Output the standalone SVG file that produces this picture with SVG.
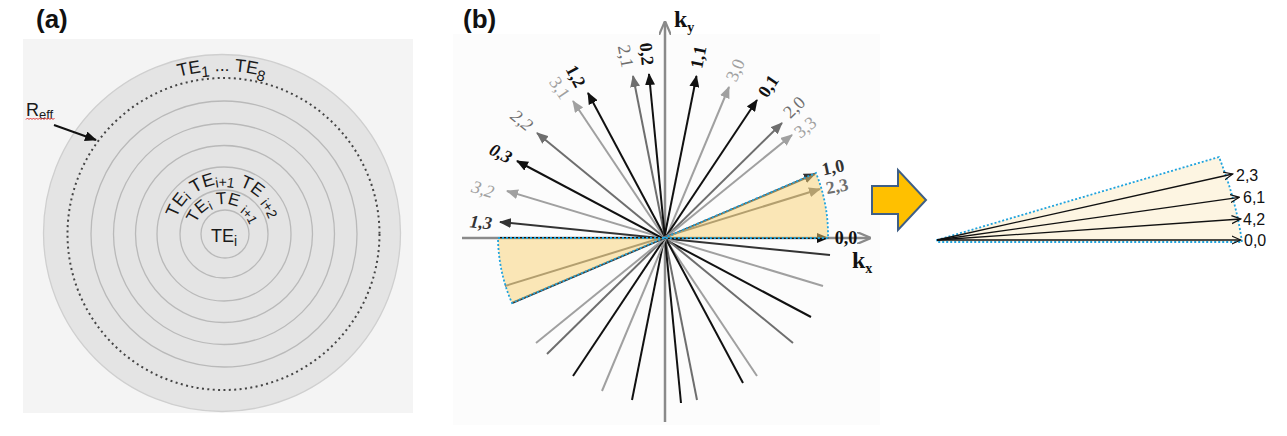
<svg xmlns="http://www.w3.org/2000/svg" width="1287" height="436" viewBox="0 0 1287 436">
<style>
.ring{fill:none;stroke:#b9b9b9;stroke-width:1.3}
.te{font-family:"Liberation Sans",Arial,sans-serif;fill:#1a1a1a}
.ray{stroke-width:2;fill:none}
.k{stroke:#111}.d{stroke:#333}.g{stroke:#6e6e6e}.l{stroke:#a0a0a0}
.lb{font-family:"Liberation Serif","Times New Roman",serif;font-size:18px;text-anchor:middle}
.lk{fill:#111;font-weight:bold}.ld{fill:#333;font-weight:bold}.lg{fill:#6e6e6e}.ll{fill:#a0a0a0}
.wedge{fill:#f7cf70;fill-opacity:0.5;stroke:#1fa3de;stroke-width:1.8;stroke-dasharray:2 2}
.cl{font-family:"Liberation Sans",Arial,sans-serif;font-size:16px;fill:#111}
.ca{stroke:#111;stroke-width:1.3;fill:none}
.panel{font-family:"Liberation Sans",Arial,sans-serif;font-size:26px;font-weight:bold;fill:#111}
</style>
<defs>
<marker id="ah-k" markerWidth="12" markerHeight="10" refX="11" refY="5" orient="auto" markerUnits="userSpaceOnUse"><path d="M0,0 L12,5 L0,10 z" fill="#111"/></marker>
<marker id="ah-d" markerWidth="12" markerHeight="10" refX="11" refY="5" orient="auto" markerUnits="userSpaceOnUse"><path d="M0,0 L12,5 L0,10 z" fill="#333"/></marker>
<marker id="ah-g" markerWidth="12" markerHeight="10" refX="11" refY="5" orient="auto" markerUnits="userSpaceOnUse"><path d="M0,0 L12,5 L0,10 z" fill="#6e6e6e"/></marker>
<marker id="ah-l" markerWidth="12" markerHeight="10" refX="11" refY="5" orient="auto" markerUnits="userSpaceOnUse"><path d="M0,0 L12,5 L0,10 z" fill="#a0a0a0"/></marker>
<marker id="ah-ax" markerWidth="14" markerHeight="12" refX="13" refY="6" orient="auto" markerUnits="userSpaceOnUse"><path d="M0,0 L14,6 L0,12" fill="none" stroke="#8a8a8a" stroke-width="2.2"/></marker>
<marker id="ah-r" markerWidth="12" markerHeight="10" refX="11" refY="5" orient="auto" markerUnits="userSpaceOnUse"><path d="M0,0 L12,5 L0,10 z" fill="#111"/></marker>
<marker id="oa" markerWidth="10" markerHeight="10" refX="9" refY="5" orient="auto" markerUnits="userSpaceOnUse"><path d="M0,1 L9,5 L0,9" fill="none" stroke="#111" stroke-width="1.2"/></marker>
<path id="arcTE" d="M59.5,233.5 A162.5,162.5 0 0 1 384.5,233.5"/>
<path id="arcOuter" d="M174,234 A50,50 0 0 1 274,234"/>
<path id="arcInner" d="M194,234 A30,30 0 0 1 254,234"/>
</defs>
<rect width="1287" height="436" fill="#fff"/>

<g id="panel-a">
<text class="panel" x="36" y="28">(a)</text>
<rect x="23" y="39" width="390" height="374" fill="#f4f4f4"/>
<circle cx="222" cy="233" r="178.5" fill="#e4e4e4" stroke="#cfcfcf" stroke-width="1.3"/>
<circle class="ring" cx="224" cy="234" r="133"/>
<circle class="ring" cx="224" cy="234" r="110.5"/>
<circle class="ring" cx="224" cy="234" r="88.5"/>
<circle class="ring" cx="224" cy="234" r="67"/>
<circle class="ring" cx="224" cy="234" r="44"/>
<circle class="ring" cx="225" cy="234" r="24"/>
<circle cx="223.5" cy="234" r="156" fill="none" stroke="#444" stroke-width="2" stroke-dasharray="2 3.4"/>
<text class="te" font-size="18"><textPath href="#arcTE" startOffset="50%" text-anchor="middle">TE<tspan font-size="15" dy="5">1</tspan><tspan dy="-5"> ... TE</tspan><tspan font-size="15" dy="5">8</tspan></textPath></text>
<text class="te" font-size="18"><textPath href="#arcOuter" startOffset="50%" text-anchor="middle">TE<tspan font-size="14" dy="2">i</tspan><tspan dy="-2"> TE</tspan><tspan font-size="14" dy="3">i+1</tspan><tspan dy="-3"> TE </tspan><tspan font-size="14" dy="3">i+2</tspan></textPath></text>
<text class="te" font-size="17"><textPath href="#arcInner" startOffset="50%" text-anchor="middle">TE<tspan font-size="13" dy="3">i</tspan><tspan dy="-3"> TE </tspan><tspan font-size="13" dy="3">i+1</tspan></textPath></text>
<text class="te" font-size="18" x="211" y="242">TE<tspan font-size="14" dy="4">i</tspan></text>
<text class="te" font-size="18" x="26" y="116">R<tspan font-size="13" dy="3">eff</tspan></text>
<polyline points="26,119.5 27.5,118 29,119.5 30.5,118 32,119.5 33.5,118 35,119.5 36.5,118 38,119.5 39.5,118 41,119.5 42.5,118 44,119.5 45.5,118 47,119.5 48.5,118 50,119.5 51.5,118 53,119.5 54.5,118" fill="none" stroke="#e03030" stroke-width="1"/>
<line x1="54" y1="125" x2="96" y2="140" stroke="#111" stroke-width="2" marker-end="url(#ah-r)"/>
</g>

<g id="panel-b">
<text class="panel" x="463" y="28">(b)</text>
<rect x="453" y="34" width="427" height="391" fill="#fcfcfc"/>
<g id="axes">
<line x1="462" y1="238" x2="870" y2="238" stroke="#8a8a8a" stroke-width="2.5" marker-end="url(#ah-ax)"/>
<line x1="665" y1="422" x2="665" y2="22" stroke="#8a8a8a" stroke-width="2.5" marker-end="url(#ah-ax)"/>
<text font-family="'Liberation Serif',serif" font-weight="bold" font-size="24" fill="#111" x="674" y="27">k<tspan font-size="14" dy="5">y</tspan></text>
<text font-family="'Liberation Serif',serif" font-weight="bold" font-size="24" fill="#111" x="852" y="268">k<tspan font-size="14" dy="5">x</tspan></text>
</g>
<g id="connectors">
<line class="ray d" x1="830" y1="255" x2="500" y2="222" marker-end="url(#ah-d)"/>
<line class="ray l" x1="823" y1="286" x2="507" y2="191" marker-end="url(#ah-l)"/>
<line class="ray k" x1="811" y1="317" x2="517" y2="161" marker-end="url(#ah-k)"/>
<line class="ray g" x1="793" y1="343" x2="537" y2="133" marker-end="url(#ah-g)"/>
<line class="ray l" x1="757" y1="376" x2="573" y2="101" marker-end="url(#ah-l)"/>
<line class="ray k" x1="743" y1="383" x2="588" y2="93" marker-end="url(#ah-k)"/>
<line class="ray g" x1="697" y1="400" x2="633" y2="76" marker-end="url(#ah-g)"/>
<line class="ray k" x1="681" y1="403" x2="649" y2="74" marker-end="url(#ah-k)"/>
<line class="ray k" x1="632" y1="400" x2="696.5" y2="76" marker-end="url(#ah-k)"/>
<line class="ray l" x1="602" y1="391" x2="729" y2="87" marker-end="url(#ah-l)"/>
<line class="ray k" x1="573" y1="376" x2="757" y2="100" marker-end="url(#ah-k)"/>
<line class="ray g" x1="547" y1="354" x2="782" y2="123" marker-end="url(#ah-g)"/>
<line class="ray l" x1="536" y1="343" x2="792" y2="135" marker-end="url(#ah-l)"/>
<line class="ray d" x1="512" y1="303" x2="815" y2="174" marker-end="url(#ah-d)"/>
<line class="ray g" x1="505" y1="286" x2="820" y2="189" marker-end="url(#ah-g)"/>
<line class="ray k" x1="498" y1="238" x2="828" y2="238" marker-end="url(#ah-k)"/>
</g>
<path id="wedge-right" class="wedge" d="M664,238 L816,173 A165,165 0 0 1 828,238 Z"/>
<path id="wedge-left" class="wedge" d="M664,238 L498,238 A166,166 0 0 0 512,303 Z"/>
<g id="labels-b">
<text class="lb ld" font-style="italic" transform="translate(481,222) rotate(5.6)" dy="0.35em">1,3</text>
<text class="lb ll" font-style="italic" transform="translate(483,189) rotate(16.7)" dy="0.35em">3,2</text>
<text class="lb lk" font-style="italic" transform="translate(501,153) rotate(27.6)" dy="0.35em">0,3</text>
<text class="lb lg" font-style="italic" transform="translate(522,120) rotate(39.6)" dy="0.35em">2,2</text>
<text class="lb ll" transform="translate(560,88) rotate(56.4)" dy="0.35em">3,1</text>
<text class="lb lk" transform="translate(576,76) rotate(62.3)" dy="0.35em">1,2</text>
<text class="lb lg" transform="translate(626,56) rotate(79.2)" dy="0.35em">2,1</text>
<text class="lb lk" transform="translate(647,54) rotate(84.8)" dy="0.35em">0,2</text>
<text class="lb lk" transform="translate(698,57) rotate(-78.7)" dy="0.35em">1,1</text>
<text class="lb ll" transform="translate(735,70) rotate(-66.7)" dy="0.35em">3,0</text>
<text class="lb lk" transform="translate(768,86) rotate(-56)" dy="0.35em">0,1</text>
<text class="lb lg" transform="translate(794,107) rotate(-44.3)" dy="0.35em">2,0</text>
<text class="lb ll" transform="translate(805,127) rotate(-38.8)" dy="0.35em">3,3</text>
<text class="lb ld" transform="translate(833,167) rotate(-12)" dy="0.35em">1,0</text>
<text class="lb lg" font-weight="bold" transform="translate(837,186) rotate(-10)" dy="0.35em">2,3</text>
<text class="lb lk" transform="translate(846,238)" dy="0.35em">0,0</text>
</g>
</g>

<g id="big-arrow">
<polygon points="872,186 898,186 898,170 926,200 898,230 898,214 872,214" fill="#ffc000" stroke="#3f5f86" stroke-width="2" stroke-linejoin="miter"/>
</g>

<g id="panel-c">
<path d="M937,240 L1219,157 Q1236,200 1242,242 L937,242 Z" fill="#fdf5e2" stroke="#1fa3de" stroke-width="1.8" stroke-dasharray="2 2"/>
<g id="connectors-c">
<line class="ca" x1="937" y1="240" x2="1232.7" y2="174" marker-end="url(#oa)"/>
<line class="ca" x1="937" y1="240" x2="1239.3" y2="197.3" marker-end="url(#oa)"/>
<line class="ca" x1="937" y1="240" x2="1240.7" y2="219" marker-end="url(#oa)"/>
<line class="ca" x1="937" y1="240" x2="1240.7" y2="240" marker-end="url(#oa)"/>
</g>
<text class="cl" x="1236" y="181">2,3</text>
<text class="cl" x="1243" y="203">6,1</text>
<text class="cl" x="1243" y="225">4,2</text>
<text class="cl" x="1244" y="246">0,0</text>
</g>
</svg>
